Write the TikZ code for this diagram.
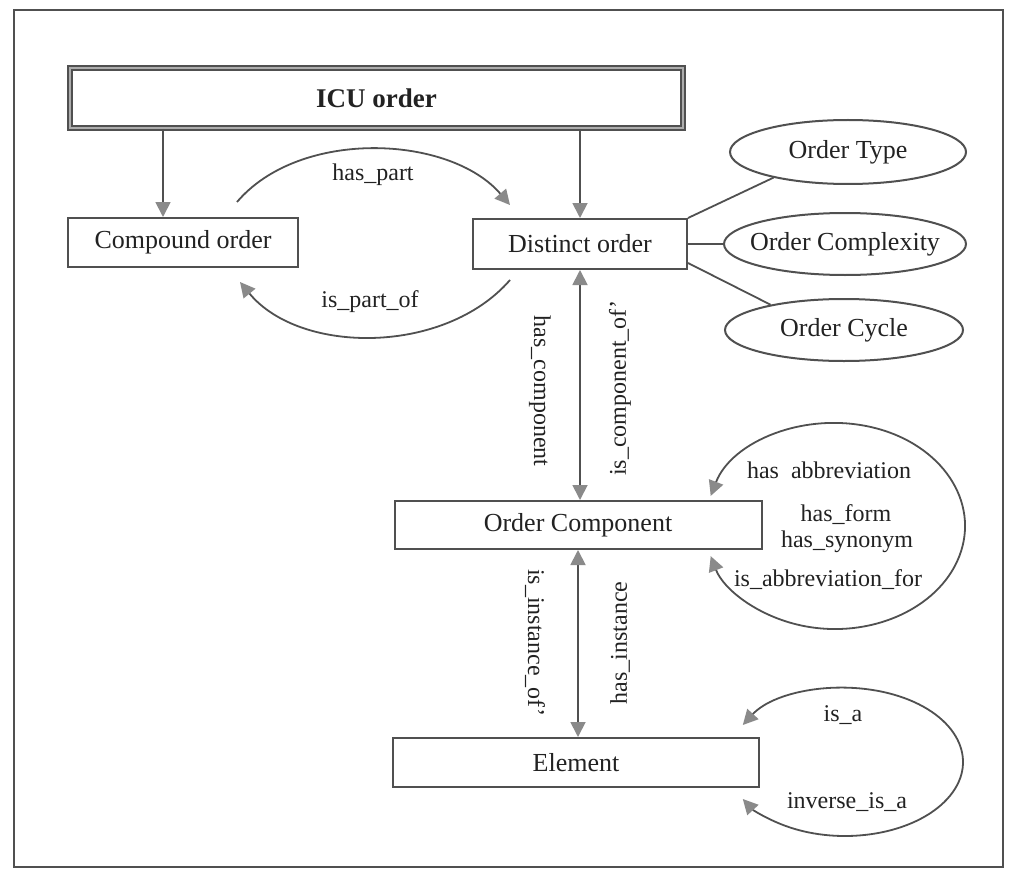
\documentclass[tikz,border=0pt]{standalone}
\usepackage{fontspec}
\setmainfont{Liberation Serif}
\usetikzlibrary{arrows.meta,shapes.geometric,calc}
\definecolor{linec}{HTML}{505050}
\definecolor{headc}{HTML}{8A8A8A}
\definecolor{txtc}{HTML}{222222}
\begin{document}
\begin{tikzpicture}[x=1pt,y=-1pt,
  boxtext/.style={font=\fontsize{26}{30}\selectfont, text=txtc},
  lbl/.style={font=\fontsize{24}{28}\selectfont, text=txtc, inner sep=0pt},
  ebox/.style={draw=linec, line width=2pt, fill=white, inner sep=0pt, boxtext},
  attr/.style={ellipse, draw=linec, line width=2pt, inner sep=0pt},
  attrtext/.style={boxtext, inner sep=0pt},
  arr/.style={draw=linec, line width=1.8pt, -{Triangle[length=15pt,width=15pt,color=headc]}},
  darr/.style={draw=linec, line width=1.8pt, {Triangle[length=15pt,width=15pt,color=headc]}-{Triangle[length=15pt,width=15pt,color=headc]}},
  conn/.style={draw=linec, line width=1.8pt}]
\useasboundingbox (0,0) rectangle (1011,869);
\fill[white] (0,0) rectangle (1011,869);
\draw[linec, line width=2pt] (14,10) rectangle (1003,867);

% nodes
\node[ebox, draw=linec, double=headc!70, double distance=2.5pt, line width=1.6pt,
      minimum width=613pt, minimum height=60pt, font=\fontsize{27}{30}\selectfont\bfseries]
      (icu) at (376.5,98) {ICU order};
\node[ebox, minimum width=230pt, minimum height=49pt] (comp) at (183,242.5) {Compound order};
\node[ebox, minimum width=214pt, minimum height=50pt] (dist) at (580,244) {Distinct order};
\node[ebox, minimum width=367pt, minimum height=48pt] (ocomp) at (578,525) {Order Component};
\node[ebox, minimum width=366pt, minimum height=49pt] (elem) at (576,762.5) {Element};

\node[attr, minimum width=236pt, minimum height=64pt,
      label={[attrtext]center:Order Type}] (otype) at (848,152) {};
\node[attr, minimum width=242pt, minimum height=62pt,
      label={[attrtext]center:Order Complexity}] (ocompl) at (845,244) {};
\node[attr, minimum width=238pt, minimum height=62pt,
      label={[attrtext]center:Order Cycle}] (ocycle) at (844,330) {};

% hierarchy arrows
\coordinate (xa) at (163,0);
\draw[arr] (icu.south -| xa) -- (comp.north -| xa);
\draw[arr] (icu.south -| dist.north) -- (dist.north);

% attribute lines
\draw[conn] (dist.north east) -- (otype.199);
\draw[conn] (dist.east) -- (ocompl.west);
\draw[conn] ($(dist.south east)+(0,-7)$) -- (ocycle.161);

% has_part / is_part_of
\coordinate (hp1) at (237,202);
\coordinate (hp2) at (510,205);
\coordinate (ip1) at (510,280);
\coordinate (ip2) at (240,282);
\draw[arr] (hp1) .. controls (300,128) and (450,135) .. (hp2);
\draw[arr] (ip1) .. controls (445,355) and (300,355) .. (ip2);
\node[lbl] (lhp) at (373,175) {has\_part};
\node[lbl] (lip) at (370,302) {is\_part\_of};

% vertical double arrows
\draw[darr] (dist.south) -- (dist.south |- ocomp.north);
\draw[darr] (ocomp.south) -- (ocomp.south |- elem.north);
\node[lbl, rotate=-90] (lhc) at (540,391) {has\_component};
\node[lbl, rotate=90] (lic) at (620,388) {is\_component\_of'};
\node[lbl, rotate=-90] (lio) at (535,643) {is\_instance\_of'};
\node[lbl, rotate=90] (lhi) at (620,643) {has\_instance};

% loop on Order Component
\coordinate (oc1) at (710.7,495.9);
\draw[darr] (oc1) arc[start angle=197, end angle=523, x radius=130, y radius=103];
\node[lbl] (l1) at (829,470) {has\ \ abbreviation};
\node[lbl] (l2) at (846,515) {has\_form};
\node[lbl] (l3) at (847,542) {has\_synonym};
\node[lbl] (l4) at (828,580) {is\_abbreviation\_for};

% loop on Element
\coordinate (el1) at (742.8,725);
\draw[darr] (el1) arc[start angle=210, end angle=510, x radius=118, y radius=74];
\node[lbl] (l5) at (843,715) {is\_a};
\node[lbl] (l6) at (847,802) {inverse\_is\_a};
\end{tikzpicture}
\end{document}
